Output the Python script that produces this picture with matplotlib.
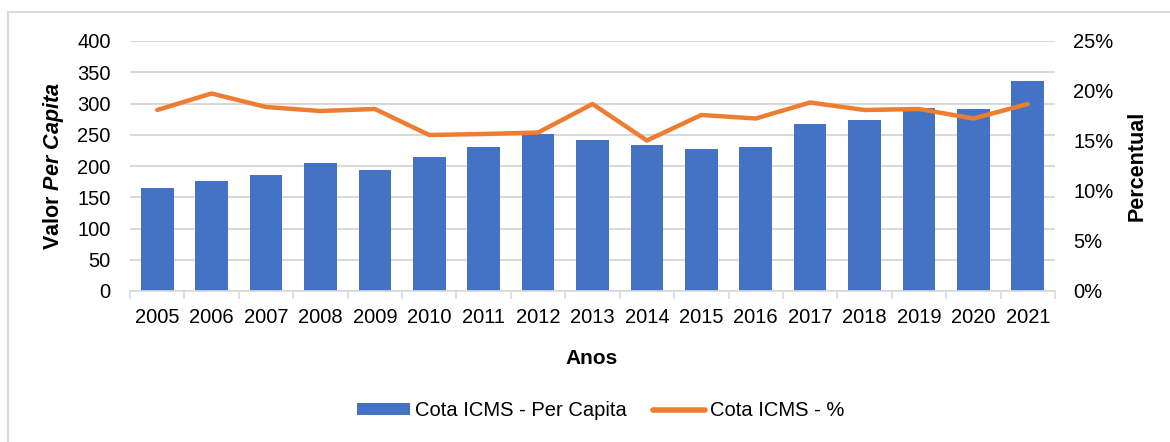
import matplotlib
matplotlib.use("Agg")
import matplotlib.pyplot as plt
from matplotlib.patches import Patch, Rectangle
from matplotlib.lines import Line2D
from matplotlib.ticker import FuncFormatter, FixedLocator
import numpy as np

plt.rcParams['font.family'] = ['Liberation Sans', 'DejaVu Sans']
plt.rcParams['mathtext.fontset'] = 'custom'
plt.rcParams['mathtext.rm'] = 'Liberation Sans:bold'
plt.rcParams['mathtext.bfit'] = 'Liberation Sans:bold:italic'
plt.rcParams['mathtext.it'] = 'Liberation Sans:bold:italic'

years = ["2005", "2006", "2007", "2008", "2009", "2010", "2011", "2012", "2013",
         "2014", "2015", "2016", "2017", "2018", "2019", "2020", "2021"]
per_capita = [165, 176, 185, 205, 194, 215, 231, 251, 242,
              233, 227, 230, 268, 273, 293, 292, 336]
percent = [18.1, 19.75, 18.4, 18.0, 18.2, 15.6, 15.7, 15.85, 18.7,
           15.05, 17.6, 17.25, 18.85, 18.1, 18.2, 17.25, 18.7]

left_ticks = [0, 50, 100, 150, 200, 250, 300, 350, 400]
right_ticks = [0, 5, 10, 15, 20, 25]

BLUE = "#4472C4"
ORANGE = "#ED7D31"
GRID = "#D9D9D9"
FS = 14.5

fig = plt.figure(figsize=(11.7, 4.42), dpi=100)
W, H = 1170, 442
ax = fig.add_axes([130 / W, 1 - 291 / H, (1055 - 130) / W, (291 - 41) / H])
ax2 = ax.twinx()

x = np.arange(len(years))
ax.bar(x, per_capita, width=0.6, color=BLUE, zorder=2)
ax2.plot(x, percent, color=ORANGE, lw=3.2, solid_joinstyle='round',
         solid_capstyle='round', zorder=3)

ax.set_xlim(-0.5, len(years) - 0.5)
ax.set_ylim(0, 400)
ax2.set_ylim(0, 25)
ax.yaxis.set_major_locator(FixedLocator(left_ticks))
ax2.yaxis.set_major_locator(FixedLocator(right_ticks))
ax2.yaxis.set_major_formatter(FuncFormatter(lambda v, p: f"{v:.0f}%"))

ax.set_xticks(x)
ax.set_xticklabels(years)
ax.set_xticks(np.arange(-0.5, len(years), 1.0), minor=True)
ax.tick_params(axis='x', which='major', length=0, pad=12, labelsize=FS, colors='black')
ax.tick_params(axis='x', which='minor', length=6, width=1.2, color=GRID, direction='out')
ax.tick_params(axis='y', length=0, pad=14, labelsize=FS, colors='black')
ax2.tick_params(axis='y', length=0, pad=13, labelsize=FS, colors='black')

ax.grid(axis='y', color=GRID, lw=1.5, zorder=0)
ax.set_axisbelow(True)
for a in (ax, ax2):
    for s in ('top', 'left', 'right'):
        a.spines[s].set_visible(False)
    a.spines['bottom'].set_color(GRID)
    a.spines['bottom'].set_linewidth(1.2)
ax2.spines['bottom'].set_visible(False)
ax.set_zorder(1)
ax2.set_zorder(2)
ax2.patch.set_visible(False)

fig.text(53 / W, 1 - 166 / H, r"Valor $\mathbfit{Per\ Capita}$", rotation=90,
         ha='center', va='center', fontsize=15.5, fontweight='bold')
fig.text(1137 / W, 1 - 166 / H, "Percentual", rotation=90,
         ha='center', va='center', fontsize=15.5, fontweight='bold')
fig.text(592 / W, 1 - 358 / H, "Anos", ha='center', va='center',
         fontsize=15, fontweight='bold')

handles = [Patch(facecolor=BLUE, edgecolor='none'),
           Line2D([0], [0], color=ORANGE, lw=4, solid_capstyle='round')]
fig.legend(handles, ["Cota ICMS - Per Capita", "Cota ICMS - %"],
           loc='center', bbox_to_anchor=(601 / W, 1 - 411 / H), ncol=2,
           frameon=False, fontsize=FS, handlelength=2.6, handleheight=0.55,
           handletextpad=0.25, columnspacing=1.3, borderaxespad=0)

fig.patches.append(Rectangle((8 / W, -0.1), 1.2, 1 - 12 / H + 0.1,
                             transform=fig.transFigure, fill=False,
                             edgecolor=GRID, lw=1.5, zorder=0))

fig.savefig("out.png", dpi=100)
